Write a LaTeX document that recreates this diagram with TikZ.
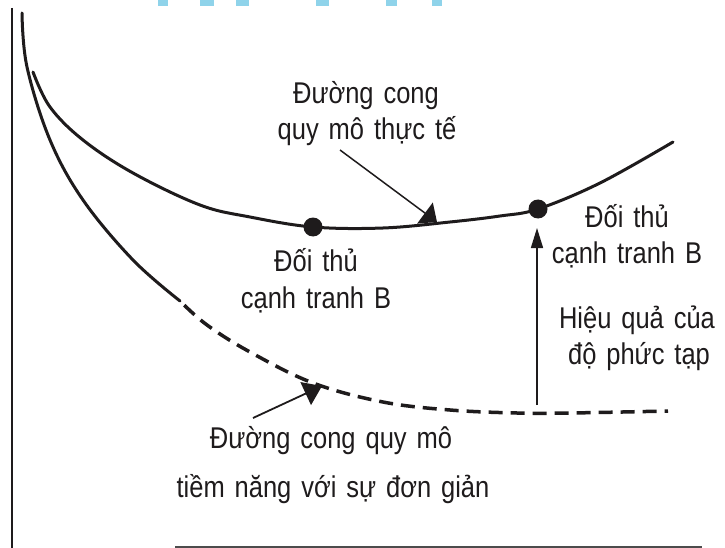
\documentclass[tikz,border=0pt]{standalone}
\usepackage{fontspec}
\setmainfont{Liberation Sans}[FakeStretch=0.85,WordSpace=1.4]
\usetikzlibrary{arrows.meta}
\definecolor{ink}{HTML}{1E1B1C}
\definecolor{hdr}{HTML}{8FD3EA}
\begin{document}
\begin{tikzpicture}[x=1pt,y=-1pt,
  lbl/.style={font=\fontsize{30}{36}\selectfont, inner sep=0pt, anchor=base, text=ink},
  curve/.style={line width=3pt, line cap=round, ink},
  dashcurve/.style={line width=3.5pt, ink, dash pattern=on 14pt off 8pt, dash phase=16pt},
  axis/.style={line width=1.5pt, ink},
  dot/.style={circle, fill=ink, minimum size=19pt, inner sep=0pt},
  ptr/.style={line width=1.5pt, ink, -{Triangle[length=15pt,width=26pt]}},
  ptrb/.style={line width=1.8pt, ink, -{Triangle[length=18pt,width=25pt]}},
  ptrv/.style={line width=1.5pt, ink, -{Triangle[length=20pt,width=12pt]}},
  hbar/.style={fill=hdr, draw=none}]
\useasboundingbox (0,0) rectangle (725,548);

% header remnants
\foreach \a/\b in {158/168, 200/214, 236/249, 316/329, 386/397, 432/442}
  \fill[hbar] (\a,0) rectangle (\b,6);

% axes
\draw[axis] (12,8) -- (12,548);
\draw[line width=2pt, black!70] (175,546.5) -- (702,546.5);

% potential curve (solid then dashed)
\draw[curve] plot[smooth, tension=0.6] coordinates {(22,13) (27,67) (50,140) (83,200) (133,260) (180,301)};
\draw[dashcurve] plot[smooth, tension=0.6] coordinates {(180,301) (207,325) (250,352) (313,383) (383,402) (450,410) (517,413) (570,413) (668,411)};

% actual curve
\draw[curve] plot[smooth, tension=0.6] coordinates {(33,72) (50,107) (83,140) (133,173) (200,205) (250,217) (313,227) (383,228) (450,222) (500,216) (538,209) (600,183) (673,142)};

% dots
\node[dot] (d1) at (313,227) {};
\node[dot] (d2) at (538,209) {};

% labels
\node[lbl] (t1) at (366,104) {Đường cong};
\node[lbl] (t2) at (367,140) {quy mô thực tế};
\node[lbl] (b1) at (316,271) {Đối thủ};
\node[lbl] (b2) at (316,308) {cạnh tranh B};
\node[lbl] (r1) at (627,227) {Đối thủ};
\node[lbl] (r2) at (627,263) {cạnh tranh B};
\node[lbl] (h1) at (637,328) {Hiệu quả của};
\node[lbl] (h2) at (639,364) {độ phức tạp};
\node[lbl] (p1) at (331,448) {Đường cong quy mô};
\node[lbl] (p2) at (333,497) {tiềm năng với sự đơn giản};

% pointers
\coordinate (a1s) at (340,150);
\coordinate (a1e) at (437,222);
\draw[ptr] (a1s) -- (a1e);
\coordinate (a2s) at (253,418);
\coordinate (a2e) at (322,386);
\draw[ptrb] (a2s) -- (a2e);
\coordinate (vb) at (537,405);
\coordinate (vt) at (537,228);
\draw[ptrv] (vb) -- (vt);
\end{tikzpicture}
\end{document}
